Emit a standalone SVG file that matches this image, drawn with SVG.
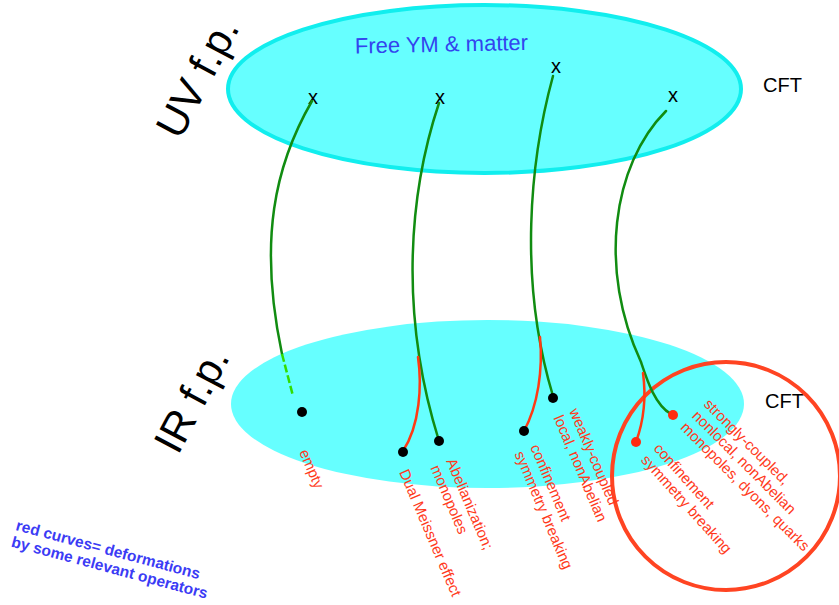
<svg xmlns="http://www.w3.org/2000/svg" width="839" height="605" viewBox="0 0 839 605">
<style>
text{font-family:"Liberation Sans",Arial,sans-serif}
.big{font-size:42px;fill:#000}
.lbl{font-size:15px;fill:#ff3a1c}
.cft{font-size:20px;fill:#000}
.xm{font-size:20px;fill:#000;text-anchor:middle}
.g{fill:none;stroke:#118c11;stroke-width:2.5;stroke-linecap:round}
.r{fill:none;stroke:#ff3a14;stroke-width:2.5;stroke-linecap:round}
.bd{fill:#000}
.rd{fill:#ff2a10}
</style>
<rect width="839" height="605" fill="#fff"/>
<g id="uv">
<ellipse cx="484.5" cy="89" rx="256.5" ry="84" fill="#66ffff" stroke="#11eeee" stroke-width="4"/>
<text x="0" y="0" transform="translate(355,53.5) rotate(-1.2)" style="font-size:22px;fill:#3344ee">Free YM &amp; matter</text>
<text class="xm" x="313" y="104">x</text>
<text class="xm" x="440" y="104">x</text>
<text class="xm" x="556" y="73">x</text>
<text class="xm" x="673" y="102">x</text>
<text class="cft" x="763" y="92">CFT</text>
<text class="big" transform="translate(180,141) rotate(-62)">UV f.p.</text>
</g>
<g id="ir">
<ellipse cx="487.5" cy="404" rx="256.5" ry="84" fill="#66ffff"/>
<text class="cft" x="765" y="408">CFT</text>
<text class="big" transform="translate(178,456) rotate(-62)">IR f.p.</text>
</g>
<g id="cft-circle">
<circle cx="726" cy="476" r="114" fill="none" stroke="#ff4422" stroke-width="4"/>
</g>
<g id="connectors">
<path class="g" d="M312,101 C275,165 258,240 282,354"/>
<path d="M282,354 L293,396" fill="none" stroke="#33dd00" stroke-width="2.5" stroke-dasharray="8,3"/>
<path class="g" d="M439,103 C410,190 398,310 439,441"/>
<path class="r" d="M418,357 C422,385 420,425 403,451"/>
<path class="g" d="M553,76 C530,160 518,280 553,396"/>
<path class="r" d="M540,337 C543,370 538,405 524,431"/>
<path class="g" d="M666,111 C612,165 598,270 641,362 C647,380 655,405 671,414"/>
<path class="r" d="M643,373 C646,395 644,420 636,442"/>
</g>
<g id="n-empty">
<circle class="bd" cx="302" cy="412" r="5"/>
<text class="lbl" transform="translate(299,452) rotate(67)">empty</text>
</g>
<g id="n-dual">
<circle class="bd" cx="403" cy="452" r="5"/>
<text class="lbl" transform="translate(399,472) rotate(67)">Dual Meissner effect</text>
</g>
<g id="n-abel">
<circle class="bd" cx="439" cy="441" r="5"/>
<text class="lbl" transform="translate(446,461) rotate(67)"><tspan x="0" y="0">Abelianization;</tspan><tspan x="0" y="17">monopoles</tspan></text>
</g>
<g id="n-conf1">
<circle class="bd" cx="524" cy="431" r="5"/>
<text class="lbl" transform="translate(530,447) rotate(67)"><tspan x="0" y="0">confinement</tspan><tspan x="0" y="17">symmetry breaking</tspan></text>
</g>
<g id="n-weak">
<circle class="bd" cx="553" cy="398" r="5"/>
<text class="lbl" transform="translate(569,411) rotate(67)"><tspan x="0" y="0">weakly-coupled</tspan><tspan x="0" y="17">local, nonAbelian</tspan></text>
</g>
<g id="n-conf2">
<circle class="rd" cx="636" cy="442" r="5"/>
<text class="lbl" transform="translate(653,449) rotate(48)"><tspan x="0" y="0">confinement</tspan><tspan x="0" y="17">symmetry breaking</tspan></text>
</g>
<g id="n-strong">
<circle class="rd" cx="673" cy="415" r="5"/>
<text class="lbl" transform="translate(703,405) rotate(45)"><tspan x="0" y="0">strongly-coupled,</tspan><tspan x="0" y="16.5">nonlocal, nonAbelian</tspan><tspan x="0" y="33">monopoles, dyons, quarks</tspan></text>
</g>
<g id="note">
<text transform="translate(15,530) rotate(15)" style="font-size:15.5px;font-weight:bold;fill:#3b3bf5"><tspan x="0" y="0">red curves= deformations</tspan><tspan x="0" y="17">by some relevant operators</tspan></text>
</g>
</svg>
